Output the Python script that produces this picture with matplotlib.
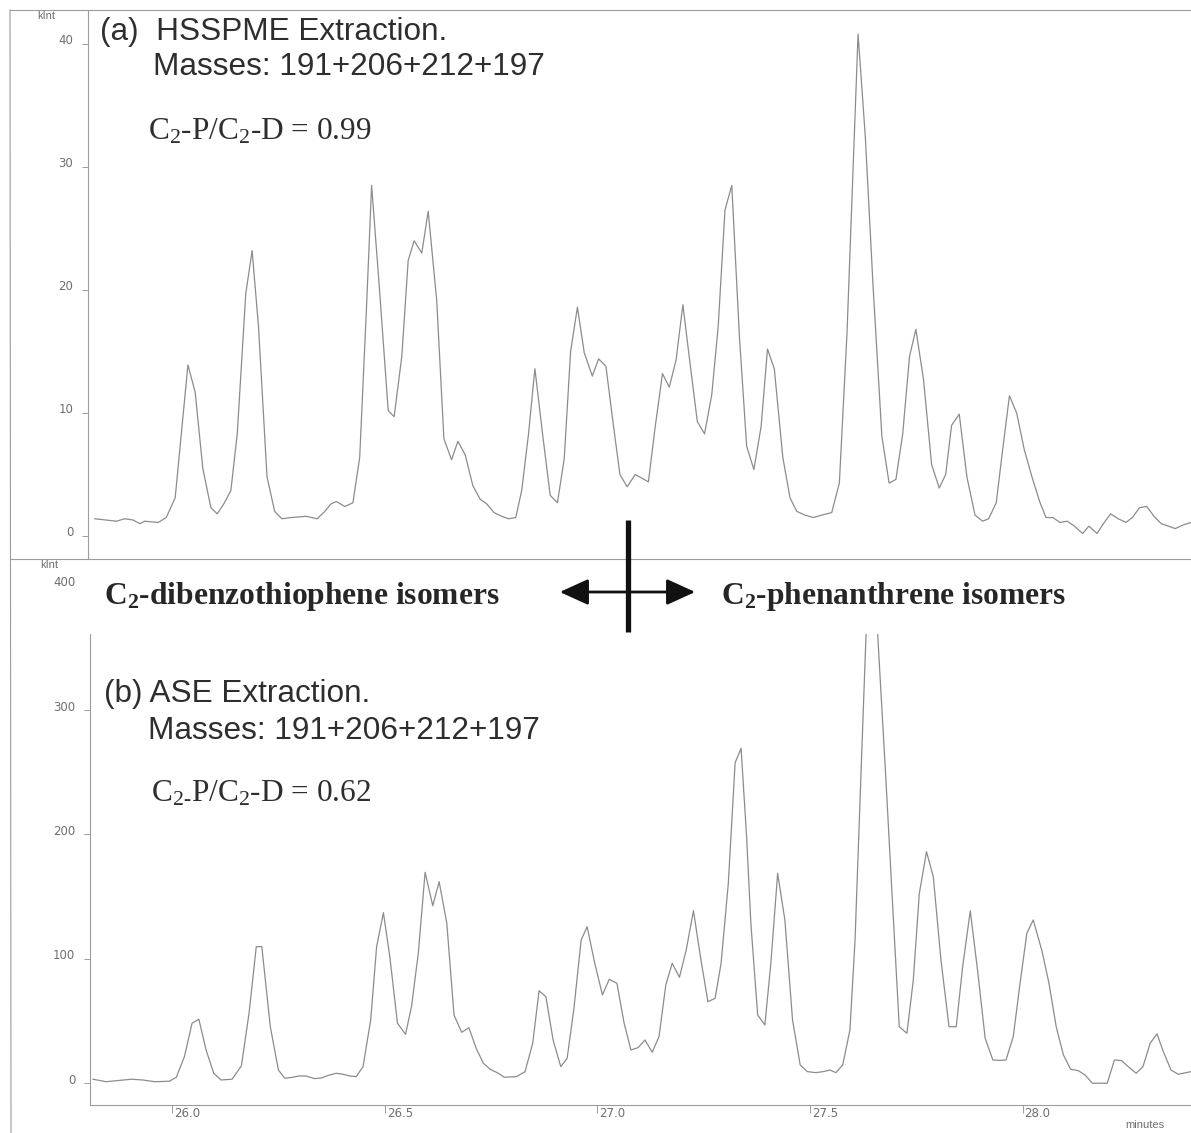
import matplotlib
matplotlib.use("Agg")
import matplotlib.pyplot as plt
from matplotlib.patches import Rectangle, FancyArrowPatch
from matplotlib.transforms import ScaledTranslation

plt.rcParams["mathtext.default"] = "regular"

# (a) HSSPME trace: retention time (min) and intensity (kInt)
t_spme = [
    25.818, 25.869, 25.888, 25.908, 25.924, 25.935, 25.967, 25.986, 26.007, 26.021,
    26.037, 26.054, 26.072, 26.091, 26.106, 26.123, 26.138, 26.153, 26.173, 26.188,
    26.203, 26.223, 26.241, 26.258, 26.280, 26.315, 26.341, 26.359, 26.373, 26.386,
    26.406, 26.425, 26.441, 26.457, 26.469, 26.487, 26.508, 26.522, 26.540, 26.555,
    26.569, 26.587, 26.602, 26.622, 26.639, 26.657, 26.672, 26.689, 26.707, 26.724,
    26.740, 26.757, 26.775, 26.791, 26.808, 26.822, 26.838, 26.853, 26.871, 26.889,
    26.906, 26.922, 26.937, 26.953, 26.969, 26.988, 27.003, 27.020, 27.038, 27.053,
    27.070, 27.089, 27.120, 27.136, 27.153, 27.169, 27.185, 27.201, 27.218, 27.235,
    27.252, 27.269, 27.284, 27.300, 27.316, 27.334, 27.351, 27.368, 27.385, 27.400,
    27.416, 27.436, 27.453, 27.469, 27.488, 27.508, 27.528, 27.551, 27.569, 27.587,
    27.598, 27.613, 27.630, 27.648, 27.669, 27.686, 27.702, 27.718, 27.734, 27.749,
    27.767, 27.786, 27.804, 27.819, 27.833, 27.851, 27.869, 27.888, 27.906, 27.920,
    27.938, 27.953, 27.969, 27.986, 28.004, 28.022, 28.040, 28.055, 28.071, 28.088,
    28.105, 28.122, 28.141, 28.156, 28.175, 28.190, 28.207, 28.225, 28.243, 28.258,
    28.275, 28.292, 28.309, 28.326, 28.343, 28.359, 28.378, 28.396]
v_spme = [
    1.4, 1.2, 1.4, 1.3, 1.0, 1.2, 1.1, 1.5, 3.1, 8.1,
    13.9, 11.7, 5.5, 2.3, 1.8, 2.7, 3.7, 8.3, 19.7, 23.2,
    17.0, 4.8, 2.0, 1.4, 1.5, 1.6, 1.4, 2.0, 2.6, 2.8,
    2.4, 2.7, 6.4, 18.6, 28.5, 20.3, 10.2, 9.7, 14.6, 22.4,
    24.0, 23.0, 26.4, 19.2, 7.9, 6.2, 7.7, 6.6, 4.1, 3.0,
    2.6, 1.9, 1.6, 1.4, 1.5, 3.7, 8.3, 13.6, 8.3, 3.3,
    2.7, 6.3, 15.0, 18.6, 14.9, 13.0, 14.4, 13.8, 8.9, 5.0,
    4.0, 5.0, 4.4, 8.9, 13.2, 12.1, 14.3, 18.8, 14.0, 9.3,
    8.3, 11.5, 17.0, 26.5, 28.5, 16.2, 7.3, 5.4, 8.9, 15.2,
    13.6, 6.4, 3.1, 2.0, 1.7, 1.5, 1.7, 1.9, 4.3, 16.5,
    26.8, 40.8, 32.5, 20.5, 8.1, 4.3, 4.6, 8.3, 14.6, 16.8,
    12.7, 5.8, 3.9, 5.0, 9.0, 9.9, 4.8, 1.7, 1.2, 1.4,
    2.7, 7.0, 11.4, 10.0, 7.0, 4.8, 2.8, 1.5, 1.5, 1.1,
    1.2, 0.8, 0.2, 0.8, 0.2, 1.0, 1.8, 1.4, 1.1, 1.5,
    2.3, 2.4, 1.6, 1.0, 0.8, 0.6, 0.9, 1.1]

# (b) ASE trace
t_ase = [
    25.814, 25.845, 25.904, 25.931, 25.959, 25.994, 26.010, 26.029, 26.047, 26.063,
    26.080, 26.098, 26.115, 26.141, 26.163, 26.181, 26.198, 26.211, 26.231, 26.250,
    26.265, 26.284, 26.298, 26.315, 26.335, 26.351, 26.366, 26.386, 26.402, 26.418,
    26.433, 26.449, 26.467, 26.481, 26.497, 26.512, 26.530, 26.549, 26.563, 26.579,
    26.595, 26.613, 26.628, 26.646, 26.663, 26.681, 26.698, 26.715, 26.732, 26.748,
    26.767, 26.781, 26.810, 26.830, 26.848, 26.863, 26.879, 26.896, 26.914, 26.929,
    26.945, 26.962, 26.976, 26.994, 27.012, 27.028, 27.046, 27.063, 27.079, 27.096,
    27.112, 27.129, 27.145, 27.161, 27.176, 27.193, 27.209, 27.226, 27.243, 27.260,
    27.277, 27.291, 27.308, 27.324, 27.338, 27.351, 27.361, 27.377, 27.394, 27.408,
    27.424, 27.441, 27.459, 27.477, 27.494, 27.514, 27.531, 27.547, 27.561, 27.577,
    27.594, 27.606, 27.626, 27.644, 27.660, 27.678, 27.695, 27.710, 27.728, 27.743,
    27.757, 27.774, 27.790, 27.808, 27.827, 27.844, 27.859, 27.877, 27.894, 27.912,
    27.930, 27.945, 27.961, 27.978, 27.994, 28.010, 28.025, 28.045, 28.062, 28.079,
    28.096, 28.113, 28.131, 28.147, 28.164, 28.182, 28.199, 28.216, 28.233, 28.251,
    28.267, 28.283, 28.300, 28.316, 28.331, 28.349, 28.366, 28.385, 28.396]
v_ase = [
    3.4, 1.4, 3.4, 2.8, 1.4, 1.8, 5.0, 21.5, 48.4, 51.6,
    26.9, 8.2, 2.8, 3.4, 14.1, 56.4, 109.9, 109.9, 45.6, 10.8,
    4.2, 5.0, 6.0, 6.0, 3.9, 4.4, 6.3, 8.2, 7.4, 6.0,
    5.5, 13.5, 51.0, 109.9, 137.2, 101.8, 48.4, 39.5, 61.7, 104.6,
    169.6, 142.8, 162.1, 128.7, 55.0, 41.1, 44.8, 28.3, 16.2, 11.4,
    8.2, 5.0, 5.5, 9.5, 32.3, 74.5, 69.7, 34.9, 13.5, 20.2,
    60.4, 115.3, 125.9, 96.5, 71.1, 83.7, 80.5, 48.4, 26.9, 28.8,
    34.9, 25.1, 37.6, 79.1, 96.5, 85.3, 107.2, 138.8, 100.6, 65.7,
    68.4, 96.5, 160.8, 257.7, 269.2, 198.2, 128.7, 55.0, 47.0, 96.5,
    168.8, 131.3, 51.0, 14.9, 9.5, 8.7, 9.5, 10.8, 8.7, 14.9,
    43.0, 115.3, 306.0, 473.0, 356.0, 247.8, 139.4, 45.6, 40.3, 83.1,
    152.2, 186.2, 166.1, 99.2, 45.6, 45.6, 93.8, 138.6, 91.2, 36.3,
    18.9, 18.5, 18.9, 37.6, 80.5, 120.6, 131.3, 107.2, 80.5, 45.6,
    22.9, 11.4, 10.3, 6.8, 0.2, 0.2, 0.2, 18.9, 18.3, 12.7,
    8.2, 13.5, 32.3, 39.8, 25.5, 10.8, 7.4, 8.7, 9.5]

yticks_spme = [0, 10, 20, 30, 40]
yticks_ase = [0, 100, 200, 300, 400]
xticks_time = [26.0, 26.5, 27.0, 27.5, 28.0]

W, H = 1191, 1133
fig = plt.figure(figsize=(W / 100, H / 100), dpi=100)


def box(x0, y0, x1, y1):
    # pixel box (y from top) -> figure fraction rect
    return [x0 / W, 1 - y1 / H, (x1 - x0) / W, (y1 - y0) / H]


def shift(labels, dx, dy):
    for lab in labels:
        lab.set_transform(lab.get_transform()
                          + ScaledTranslation(dx / 100, dy / 100, fig.dpi_scale_trans))


trace_col = "#8c8c8c"
axis_col = "#9c9c9c"
lab_col = "#6e6e6e"

ax1 = fig.add_axes(box(88, 10, W, 558))
ax2 = fig.add_axes(box(90, 559, W, 1105))

ax1.plot(t_spme, v_spme, color=trace_col, lw=0.9)
ax2.plot(t_ase, v_ase, color=trace_col, lw=0.9)

ax1.set_xlim(25.802, 28.396)
ax1.set_ylim(-1.79, 42.76)
ax2.set_xlim(25.807, 28.396)
ax2.set_ylim(-17.3, 421.3)

for ax in (ax1, ax2):
    for s in ("top", "right"):
        ax.spines[s].set_visible(False)
    for s in ("left", "bottom"):
        ax.spines[s].set_color(axis_col)
        ax.spines[s].set_linewidth(0.8)
    ax.patch.set_visible(False)
ax1.spines["bottom"].set_visible(False)

ax1.set_xticks([])
ax1.set_yticks(yticks_spme, labels=[str(v) for v in yticks_spme])
ax2.set_yticks(yticks_ase, labels=[str(v) for v in yticks_ase])
ax2.set_xticks(xticks_time, labels=[f"{t:.1f}" for t in xticks_time])

for ax in (ax1, ax2):
    ax.tick_params(axis="y", direction="out", length=4.5, width=0.7, color=axis_col,
                   pad=6, labelsize=8.5, labelcolor=lab_col)
    shift(ax.get_yticklabels(), 0, 4.5)
ax2.tick_params(axis="x", direction="out", length=6, width=0.7, color=axis_col,
                pad=-4.5, labelsize=8.5, labelcolor=lab_col)
for lab in ax2.get_xticklabels():
    lab.set_ha("left")
shift(ax2.get_xticklabels(), 2, 0)

# overlay in pixel coordinates for frame, labels and the marker
ov = fig.add_axes([0, 0, 1, 1], zorder=5)
ov.set_xlim(0, W)
ov.set_ylim(H, 0)
ov.axis("off")

ov.plot([10, W], [10, 10], color=axis_col, lw=0.8)
ov.plot([10, 11], [10, H], color=axis_col, lw=0.8)
ov.plot([10, W], [558.5, 558.5], color=axis_col, lw=0.8)
ov.add_patch(Rectangle((83, 559.8), W - 83, 634 - 559.8, facecolor="white", edgecolor="none"))

ov.plot([627.5, 627.5], [520, 632], color="#111111", lw=3.8, solid_capstyle="butt")
ov.add_patch(FancyArrowPatch((557, 592), (698, 592),
                             arrowstyle="<|-|>,head_length=1.1,head_width=0.5",
                             mutation_scale=16, color="#111111", lw=2.0))

sans = dict(family="Liberation Sans", fontsize=22.7, color="#2e2e2e", va="baseline")
serif = dict(family="Liberation Serif", fontsize=22.5, color="#2e2e2e", va="baseline")
bold = dict(family="Liberation Serif", fontsize=22.7, fontweight="bold", color="#262626",
            va="baseline")
small = dict(family="Liberation Sans", fontsize=8, color=lab_col, va="center")

ov.text(100, 40, "(a)  HSSPME Extraction.", **sans)
ov.text(153, 75, "Masses: 191+206+212+197", **sans)
ov.text(148, 140, r"C$_2$-P/C$_2$-D = 0.99", **serif)

ov.text(104, 702, "(b) ASE Extraction.", **sans)
ov.text(148, 739, "Masses: 191+206+212+197", **sans)
ov.text(151, 801, "C$_{2\u2010}$P/C$_2$-D = 0.62", **serif)

ov.text(104, 604, r"C$_2$-dibenzothiophene isomers", **bold)
ov.text(721, 604, r"C$_2$-phenanthrene isomers", **bold)

ov.text(37, 16, "kInt", **small)
ov.text(40, 565, "kInt", **small)
ov.text(1125, 1125, "minutes", **small)

fig.savefig("out.png", dpi=100)
